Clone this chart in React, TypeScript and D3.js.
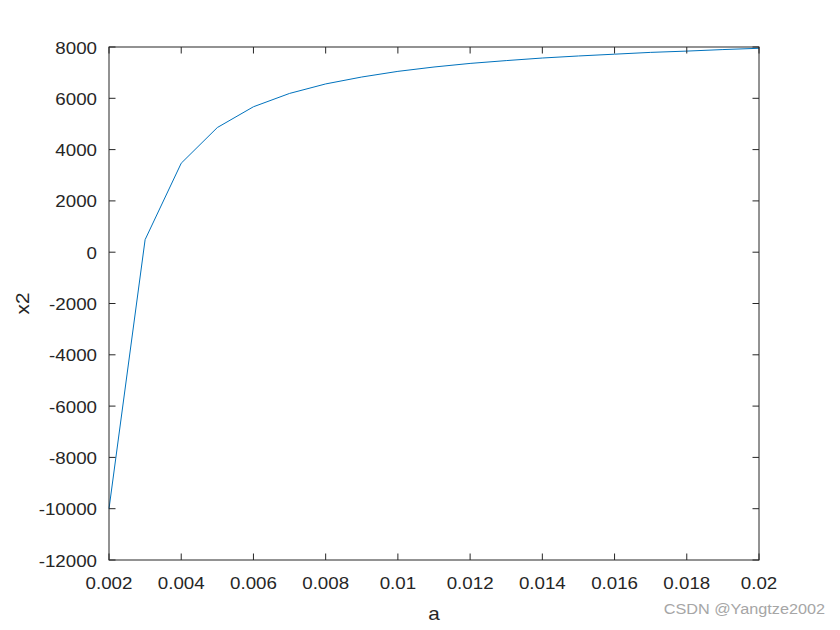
import React from 'react';
import * as d3 from 'd3';

const aValues = [0.002, 0.003, 0.004, 0.005, 0.006, 0.007, 0.008, 0.009, 0.010, 0.011, 0.012, 0.013, 0.014, 0.015, 0.016, 0.017, 0.018, 0.019, 0.020];
const x2Values = [-10000, 490, 3470, 4860, 5670, 6190, 6560, 6830, 7050, 7220, 7360, 7470, 7570, 7650, 7720, 7790, 7840, 7900, 7950];
const xTicks = [0.002, 0.004, 0.006, 0.008, 0.01, 0.012, 0.014, 0.016, 0.018, 0.02];
const xTickLabels = ['0.002', '0.004', '0.006', '0.008', '0.01', '0.012', '0.014', '0.016', '0.018', '0.02'];
const yTicks = [-12000, -10000, -8000, -6000, -4000, -2000, 0, 2000, 4000, 6000, 8000];
const xLabel = 'a';
const yLabel = 'x2';
const watermark = 'CSDN @Yangtze2002';

const W = 840, H = 630;
const L = 109, R = 759, T = 47, B = 560;
const axisColor = '#262626';
const lineColor = '#0072BD';
const font = '"Liberation Sans", Arial, Helvetica, sans-serif';
const sx = 1.15;

export default function App() {
  const x = d3.scaleLinear().domain([0.002, 0.02]).range([L, R]);
  const y = d3.scaleLinear().domain([-12000, 8000]).range([B, T]);
  const line = d3.line<number>().x((_, i) => x(aValues[i])).y((d) => y(d));
  const tl = 6.5;
  return (
    <svg width={W} height={H} style={{ position: 'absolute', left: 0, top: 0, background: '#fff' }}>
      <rect x={0} y={0} width={W} height={H} fill="#fff" />
      <path d={line(x2Values) || ''} fill="none" stroke={lineColor} strokeWidth={1} />
      <rect x={L} y={T} width={R - L} height={B - T} fill="none" stroke={axisColor} strokeWidth={1} />
      {xTicks.map((t, i) => (
        <g key={'x' + i}>
          <line x1={x(t)} x2={x(t)} y1={B} y2={B - tl} stroke={axisColor} />
          <line x1={x(t)} x2={x(t)} y1={T} y2={T + tl} stroke={axisColor} />
          <text transform={`translate(${x(t)},589) scale(${sx},1)`} textAnchor="middle" fontFamily={font} fontSize={16.3} fill={axisColor}>{xTickLabels[i]}</text>
        </g>
      ))}
      {yTicks.map((t, i) => (
        <g key={'y' + i}>
          <line x1={L} x2={L + tl} y1={y(t)} y2={y(t)} stroke={axisColor} />
          <line x1={R} x2={R - tl} y1={y(t)} y2={y(t)} stroke={axisColor} />
          <text transform={`translate(97,${y(t) + 6.5}) scale(${sx},1)`} textAnchor="end" fontFamily={font} fontSize={16.3} fill={axisColor}>{String(t)}</text>
        </g>
      ))}
      <text transform={`translate(434,620) scale(${sx},1)`} textAnchor="middle" fontFamily={font} fontSize={18} fill={axisColor}>{xLabel}</text>
      <text transform={`translate(29,${(T + B) / 2}) rotate(-90) scale(${sx},1)`} textAnchor="middle" fontFamily={font} fontSize={18} fill={axisColor}>{yLabel}</text>
      <text transform={`translate(825,614) scale(1.12,1)`} textAnchor="end" fontFamily={font} fontSize={14.5} fill="#a6a6a6">{watermark}</text>
    </svg>
  );
}
